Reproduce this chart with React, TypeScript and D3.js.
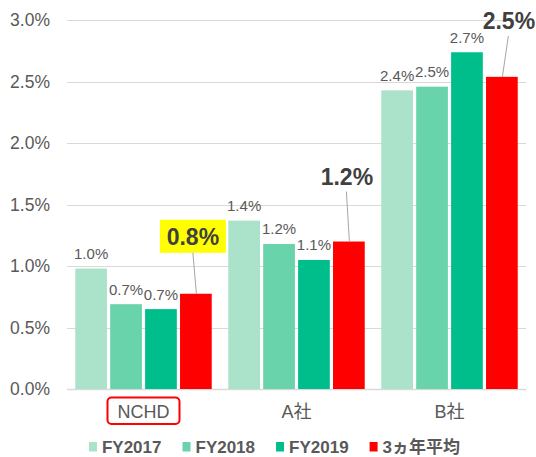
import { useEffect, useRef } from 'react'
import * as d3 from 'd3'

const categories = ['NCHD', 'A社', 'B社']
const series = ['FY2017', 'FY2018', 'FY2019', '3ヵ年平均']
const fy2017 = [0.98, 1.37, 2.43]
const fy2018 = [0.69, 1.18, 2.46]
const fy2019 = [0.65, 1.05, 2.74]
const avg3 = [0.775, 1.2, 2.54]
const avgLabels = ['0.8%', '1.2%', '2.5%']
const yTicks = [0, 0.5, 1, 1.5, 2, 2.5, 3]

const colors = ['#abe2ca', '#69d3ab', '#00be8c', '#ff0000']
const FONT = '"Liberation Sans", Arial, "Noto Sans CJK JP", sans-serif'

export default function App() {
  const svgRef = useRef<SVGSVGElement>(null)

  useEffect(() => {
    if (!svgRef.current) return
    const width = 536
    const height = 457
    const values = [fy2017, fy2018, fy2019, avg3]

    const x0 = d3.scaleBand<string>()
      .domain(categories)
      .range([67, 526])
      .paddingInner(0.108)
      .paddingOuter(0.054)

    const x1 = d3.scaleBand<string>()
      .domain(series)
      .range([0, x0.bandwidth()])
      .paddingInner(0.092)
      .paddingOuter(0)

    const y = d3.scaleLinear().domain([0, 3]).range([389, 20.3])

    const svg = d3.select(svgRef.current)
    svg.selectAll('*').remove()
    svg.attr('width', width).attr('height', height)

    // gridlines
    svg.append('g')
      .selectAll('line')
      .data(yTicks)
      .join('line')
      .attr('x1', 67)
      .attr('x2', 526)
      .attr('y1', d => Math.round(y(d)) + 0.5)
      .attr('y2', d => Math.round(y(d)) + 0.5)
      .attr('stroke', '#d9d9d9')
      .attr('stroke-width', d => (d === 0 ? 1.5 : 1))

    // y tick labels
    svg.append('g')
      .selectAll('text')
      .data(yTicks)
      .join('text')
      .attr('x', 50)
      .attr('y', d => y(d) + 6)
      .attr('text-anchor', 'end')
      .attr('font-family', FONT)
      .attr('font-size', 17.5)
      .attr('fill', '#595959')
      .text(d => d.toFixed(1) + '%')

    // bars
    const groups = svg.append('g')
      .selectAll('g')
      .data(categories)
      .join('g')
      .attr('transform', d => `translate(${x0(d)},0)`)

    groups.selectAll('rect')
      .data((_, ci) => series.map((s, si) => ({ s, si, v: values[si][ci] })))
      .join('rect')
      .attr('x', d => x1(d.s)!)
      .attr('y', d => y(d.v))
      .attr('width', x1.bandwidth())
      .attr('height', d => y(0) - y(d.v))
      .attr('fill', d => colors[d.si])

    // value labels for the yearly bars
    groups.selectAll('text.val')
      .data((_, ci) => series.slice(0, 3).map((s, si) => ({ s, v: values[si][ci] })))
      .join('text')
      .attr('class', 'val')
      .attr('x', d => x1(d.s)! + x1.bandwidth() / 2)
      .attr('y', d => y(d.v) - 9.5)
      .attr('text-anchor', 'middle')
      .attr('font-family', FONT)
      .attr('font-size', 15)
      .attr('fill', '#595959')
      .text(d => d.v.toFixed(1) + '%')

    // callouts for the 3-year average
    const callout = [
      { dx: -3, dy: -49, box: true },
      { dx: -2, dy: -57, box: false },
      { dx: 7, dy: -48, box: false },
    ]
    categories.forEach((c, ci) => {
      const bx = x0(c)! + x1(series[3])! + x1.bandwidth() / 2
      const by = y(avg3[ci])
      const o = callout[ci]
      const tx = bx + o.dx
      const ty = by + o.dy
      if (o.box) {
        svg.append('rect')
          .attr('x', tx - 33)
          .attr('y', ty - 25)
          .attr('width', 66)
          .attr('height', 33)
          .attr('fill', '#ffff00')
      }
      svg.append('line')
        .attr('x1', tx - (o.box ? 0 : 0.5))
        .attr('y1', ty + (o.box ? 8 : 7))
        .attr('x2', bx + 0.5)
        .attr('y2', by)
        .attr('stroke', '#a6a6a6')
        .attr('stroke-width', 1)
      svg.append('text')
        .attr('x', tx)
        .attr('y', ty)
        .attr('text-anchor', 'middle')
        .attr('font-family', FONT)
        .attr('font-size', 23)
        .attr('font-weight', 'bold')
        .attr('fill', '#404040')
        .text(avgLabels[ci])
    })

    // category labels
    svg.append('g')
      .selectAll('text')
      .data(categories)
      .join('text')
      .attr('x', d => x0(d)! + x0.bandwidth() / 2)
      .attr('y', 418)
      .attr('text-anchor', 'middle')
      .attr('font-family', FONT)
      .attr('font-size', 18)
      .attr('fill', '#595959')
      .text(d => d)

    const nc = x0('NCHD')! + x0.bandwidth() / 2
    svg.append('rect')
      .attr('x', nc - 36)
      .attr('y', 397.5)
      .attr('width', 72)
      .attr('height', 26.5)
      .attr('rx', 4)
      .attr('fill', 'none')
      .attr('stroke', '#ff0000')
      .attr('stroke-width', 2)

    // legend
    const legend = svg.append('g')
    let cx = 0
    series.forEach((s, i) => {
      const item = legend.append('g').attr('transform', `translate(${cx},0)`)
      item.append('rect')
        .attr('x', 0)
        .attr('y', 442)
        .attr('width', 8)
        .attr('height', 9.5)
        .attr('fill', colors[i])
      const t = item.append('text')
        .attr('x', 13)
        .attr('y', 453)
        .attr('font-family', FONT)
        .attr('font-size', 17)
        .attr('font-weight', 'bold')
        .attr('fill', '#595959')
        .text(s)
      const w = (t.node() as SVGTextElement).getComputedTextLength()
      cx += 13 + w + 21
    })
    const total = cx - 21
    legend.attr('transform', `translate(${274.5 - total / 2},0)`)
  }, [])

  return (
    <svg
      ref={svgRef}
      style={{ position: 'absolute', left: 0, top: 0, display: 'block', background: '#fff' }}
    />
  )
}
